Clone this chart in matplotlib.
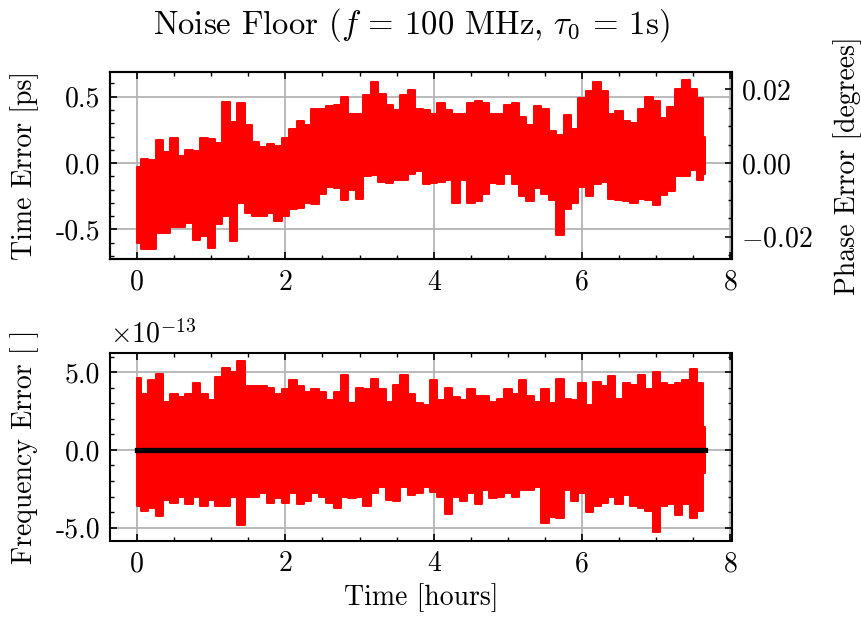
import numpy as np
import matplotlib
matplotlib.use("Agg")
import matplotlib.pyplot as plt
from matplotlib.ticker import MultipleLocator, FuncFormatter

# ---------------- data ----------------
# time grid in hours (one reading per ~0.1 h bin), last point = end of record
t_hours = [0.0, 0.1, 0.2, 0.3, 0.4, 0.5, 0.6, 0.7, 0.8, 0.9,
           1.0, 1.1, 1.2, 1.3, 1.4, 1.5, 1.6, 1.7, 1.8, 1.9,
           2.0, 2.1, 2.2, 2.3, 2.4, 2.5, 2.6, 2.7, 2.8, 2.9,
           3.0, 3.1, 3.2, 3.3, 3.4, 3.5, 3.6, 3.7, 3.8, 3.9,
           4.0, 4.1, 4.2, 4.3, 4.4, 4.5, 4.6, 4.7, 4.8, 4.9,
           5.0, 5.1, 5.2, 5.3, 5.4, 5.5, 5.6, 5.7, 5.8, 5.9,
           6.0, 6.1, 6.2, 6.3, 6.4, 6.5, 6.6, 6.7, 6.8, 6.9,
           7.0, 7.1, 7.2, 7.3, 7.4, 7.5, 7.6, 7.66]

# time error [ps]: upper / lower extent of the noisy trace per bin
time_err_upper = [-0.03, 0.03, 0.02, 0.17, 0.08, 0.19, 0.05, 0.10, 0.09, 0.19,
                  0.18, 0.15, 0.46, 0.31, 0.45, 0.29, 0.16, 0.12, 0.14, 0.13,
                  0.19, 0.26, 0.32, 0.29, 0.41, 0.41, 0.43, 0.44, 0.50, 0.37,
                  0.37, 0.51, 0.61, 0.52, 0.44, 0.40, 0.51, 0.55, 0.41, 0.40,
                  0.37, 0.45, 0.40, 0.37, 0.37, 0.45, 0.47, 0.45, 0.37, 0.37,
                  0.44, 0.45, 0.35, 0.29, 0.43, 0.41, 0.24, 0.21, 0.36, 0.26,
                  0.49, 0.54, 0.61, 0.54, 0.37, 0.39, 0.32, 0.30, 0.41, 0.50,
                  0.47, 0.34, 0.42, 0.56, 0.63, 0.56, 0.49, 0.20]
time_err_lower = [-0.60, -0.65, -0.65, -0.53, -0.53, -0.48, -0.48, -0.45, -0.58, -0.55,
                  -0.64, -0.46, -0.40, -0.59, -0.30, -0.38, -0.40, -0.40, -0.38, -0.44,
                  -0.40, -0.35, -0.34, -0.30, -0.31, -0.23, -0.18, -0.19, -0.28, -0.20,
                  -0.27, -0.10, -0.09, -0.14, -0.15, -0.13, -0.13, -0.08, -0.06, -0.16,
                  -0.15, -0.14, -0.13, -0.30, -0.13, -0.30, -0.29, -0.23, -0.15, -0.16,
                  -0.08, -0.16, -0.25, -0.29, -0.19, -0.23, -0.28, -0.54, -0.35, -0.30,
                  -0.18, -0.25, -0.16, -0.14, -0.27, -0.28, -0.29, -0.30, -0.27, -0.28,
                  -0.32, -0.24, -0.21, -0.10, -0.10, -0.05, -0.13, -0.08]

# frequency error [x1e-13]: upper / lower extent per bin
freq_err_upper = [4.6, 3.6, 4.5, 4.9, 3.1, 3.6, 3.4, 3.6, 4.3, 3.6,
                  3.2, 4.7, 5.3, 5.0, 5.75, 4.1, 4.1, 4.1, 4.0, 3.6,
                  3.9, 4.5, 4.1, 3.75, 3.9, 3.75, 3.2, 3.75, 4.8, 3.0,
                  4.0, 3.9, 4.55, 3.9, 3.1, 4.2, 4.8, 3.6, 3.0, 2.9,
                  4.5, 3.2, 4.0, 3.4, 3.2, 3.9, 3.5, 3.5, 3.1, 3.3,
                  3.9, 3.6, 4.5, 3.5, 3.1, 3.9, 3.0, 4.55, 3.3, 3.2,
                  4.3, 2.9, 4.4, 4.1, 4.75, 3.3, 4.3, 4.2, 4.8, 3.9,
                  5.0, 4.3, 4.2, 4.3, 4.5, 5.2, 4.3, 1.5]
freq_err_lower = [-3.6, -3.9, -3.75, -4.25, -3.2, -3.4, -3.0, -3.5, -3.0, -3.6,
                  -3.2, -3.6, -3.6, -3.0, -4.8, -3.0, -3.0, -2.8, -3.4, -3.1,
                  -3.4, -2.8, -3.5, -3.3, -2.8, -3.0, -3.4, -3.75, -3.0, -3.1,
                  -3.0, -3.6, -2.8, -2.4, -3.2, -3.3, -2.4, -2.9, -2.8, -2.4,
                  -2.7, -3.0, -4.1, -3.0, -3.3, -2.8, -3.5, -2.6, -3.1, -3.0,
                  -2.8, -3.0, -2.6, -2.6, -2.4, -4.7, -4.3, -4.4, -2.6, -3.3,
                  -2.8, -4.0, -3.6, -3.4, -3.0, -3.5, -2.9, -3.6, -3.75, -3.9,
                  -5.25, -3.6, -3.5, -4.2, -3.5, -4.4, -3.9, -1.5]

# mean frequency error (black trace), essentially zero
mean_t = [0.0, 7.66]
mean_freq = [0.0, 0.0]

carrier_hz = 100e6               # f = 100 MHz
ps_to_deg = 360.0 * carrier_hz * 1e-12

# ---------------- style ----------------
plt.rcParams.update({
    "font.family": "serif",
    "font.serif": ["cmr10"],
    "mathtext.fontset": "cm",
    "axes.formatter.use_mathtext": True,
    "font.size": 20,
    "axes.linewidth": 1.5,
    "xtick.direction": "in",
    "ytick.direction": "in",
    "xtick.major.size": 5,
    "ytick.major.size": 5,
    "xtick.minor.size": 2.8,
    "ytick.minor.size": 2.8,
    "xtick.major.width": 1.2,
    "ytick.major.width": 1.2,
    "xtick.minor.width": 1.0,
    "ytick.minor.width": 1.0,
    "xtick.major.pad": 7.5,
    "ytick.major.pad": 7,
    "xtick.top": True,
    "ytick.right": True,
    "xtick.minor.visible": True,
    "ytick.minor.visible": True,
})

W, H = 861, 622
fig = plt.figure(figsize=(W / 100, H / 100), dpi=100)
ax1 = fig.add_axes([110 / W, 1 - 259 / H, (731.5 - 110) / W, (259 - 71.7) / H])
ax3 = fig.add_axes([110 / W, 1 - 540.7 / H, (731.5 - 110) / W, (540.7 - 353.3) / H])

t = np.array(t_hours)
red = "#ff0000"

hyph = FuncFormatter(lambda v, p: f"{v:.1f}")

# ---- top: time error ----
ax1.fill_between(t, time_err_lower, time_err_upper, step="mid",
                 facecolor=red, edgecolor=red, lw=1.4, joinstyle="round", zorder=3)
ax1.set_xlim(-0.365, 8.015)
ax1.set_ylim(-0.724, 0.689)
ax1.xaxis.set_major_locator(MultipleLocator(2))
ax1.xaxis.set_minor_locator(MultipleLocator(0.5))
ax1.yaxis.set_major_locator(MultipleLocator(0.5))
ax1.yaxis.set_minor_locator(MultipleLocator(0.1))
ax1.xaxis.set_major_formatter(FuncFormatter(lambda v, p: f"{v:.0f}"))
ax1.yaxis.set_major_formatter(hyph)
ax1.grid(True, which="major", color="#b4b4b4", lw=1.3)
ax1.set_axisbelow(True)
ax1.set_ylabel("Time Error [ps]", labelpad=12)

ax2 = ax1.twinx()
lo, hi = ax1.get_ylim()
ax2.set_ylim(lo * ps_to_deg, hi * ps_to_deg)
ax2.yaxis.set_major_locator(MultipleLocator(0.02))
ax2.yaxis.set_minor_locator(MultipleLocator(0.005))
ax2.yaxis.set_major_formatter(FuncFormatter(lambda v, p: f"${v:.2f}$"))
ax2.tick_params(axis="y", which="both", left=False, right=True)
ax2.set_ylabel("Phase Error [degrees]", labelpad=15)

# ---- bottom: frequency error ----
ax3.fill_between(t, freq_err_lower, freq_err_upper, step="mid",
                 facecolor=red, edgecolor=red, lw=1.4, joinstyle="round", zorder=3)
ax3.plot(mean_t, mean_freq, color="black", lw=3.8, zorder=4)
ax3.set_xlim(-0.365, 8.015)
ax3.set_ylim(-5.84, 6.22)
ax3.xaxis.set_major_locator(MultipleLocator(2))
ax3.xaxis.set_minor_locator(MultipleLocator(0.5))
ax3.yaxis.set_major_locator(MultipleLocator(5))
ax3.yaxis.set_minor_locator(MultipleLocator(1))
ax3.xaxis.set_major_formatter(FuncFormatter(lambda v, p: f"{v:.0f}"))
ax3.yaxis.set_major_formatter(hyph)
ax3.grid(True, which="major", color="#b4b4b4", lw=1.3)
ax3.set_axisbelow(True)
ax3.set_ylabel("Frequency Error [ ]", labelpad=12)
ax3.set_xlabel("Time [hours]", labelpad=4)
ax3.text(0.0, 1.025, r"$\times10^{-13}$", transform=ax3.transAxes,
         ha="left", va="bottom")

fig.text(411 / W, 1 - 34 / H, r"Noise Floor ($f$ = 100 MHz, $\tau_0$ = 1s)",
         ha="center", va="baseline", fontsize=23.6)

fig.savefig("out.png", dpi=100)
